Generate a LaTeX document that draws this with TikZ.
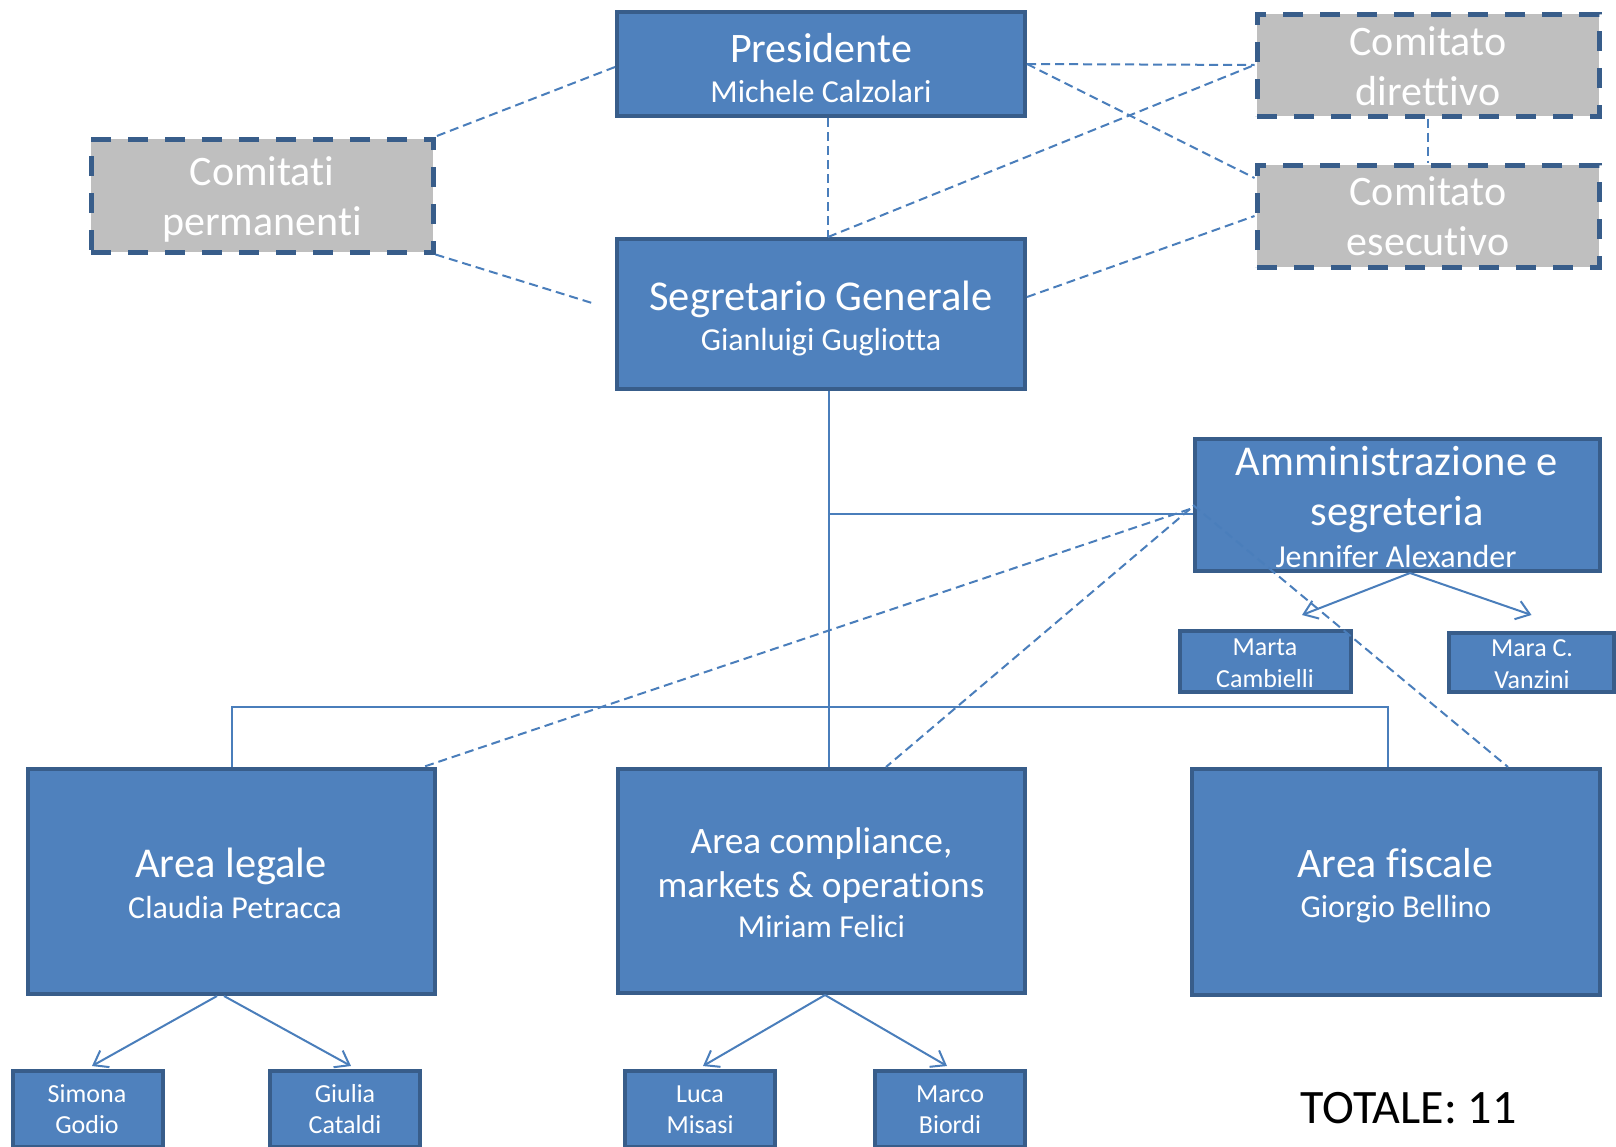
\documentclass[tikz,border=0pt]{standalone}
\usepackage{fontspec}
\setmainfont{Carlito}[Ligatures={NoCommon}]
\usetikzlibrary{arrows.meta,calc}
\definecolor{boxfill}{HTML}{4F81BD}
\definecolor{boxline}{HTML}{385D8A}
\definecolor{grayfill}{HTML}{BFBFBF}
\definecolor{conn}{HTML}{4A7EBB}
\newcommand\myfs[1]{\fontsize{#1}{#1}\selectfont}
\begin{document}
\begin{tikzpicture}[x=1pt,y=-1pt,
  bluebox/.style={rectangle, draw=boxline, fill=boxfill, line width=4pt, inner sep=0pt},
  graybox/.style={rectangle, draw=boxline, fill=grayfill, line width=5pt, dash pattern=on 20pt off 17pt, inner sep=0pt},
  txt/.style={text=white, anchor=base, inner sep=0pt},
  dline/.style={draw=conn, line width=2pt, dash pattern=on 9pt off 5pt},
  sline/.style={draw=conn, line width=2pt},
  arr/.style={draw=conn, line width=2pt, -{Straight Barb[length=13pt,width=19pt]}}
]
\path[use as bounding box] (0,0) rectangle (1616,1146);
\clip (0,0) rectangle (1616,1146);

% boxes
\node[bluebox, minimum width=408pt, minimum height=104pt] (pres) at (821,64) {};
\node[bluebox, minimum width=408pt, minimum height=150pt] (seg) at (821,314) {};
\node[graybox, minimum width=342pt, minimum height=102pt] (cdir) at (1428,65) {};
\node[graybox, minimum width=342pt, minimum height=102pt] (cese) at (1428,216) {};
\node[graybox, minimum width=342pt, minimum height=113pt] (cperm) at (262,195.5) {};
\node[bluebox, minimum width=405pt, minimum height=132pt] (amm) at (1397.5,505) {};
\node[bluebox, minimum width=171pt, minimum height=61pt] (marta) at (1265.5,661.5) {};
\node[bluebox, minimum width=165pt, minimum height=59pt] (mara) at (1531.5,662.5) {};
\node[bluebox, minimum width=407pt, minimum height=225pt] (legale) at (231.5,881.5) {};
\node[bluebox, minimum width=407pt, minimum height=224pt] (compl) at (821.5,881) {};
\node[bluebox, minimum width=408pt, minimum height=226pt] (fisc) at (1396,882) {};
\node[bluebox, minimum width=150pt, minimum height=76pt] (simona) at (88,1109) {};
\node[bluebox, minimum width=150pt, minimum height=76pt] (giulia) at (345,1109) {};
\node[bluebox, minimum width=150pt, minimum height=76pt] (luca) at (700,1109) {};
\node[bluebox, minimum width=150pt, minimum height=76pt] (marco) at (950,1109) {};

% texts
\node[txt, font=\myfs{42}] (presA) at (821,62) {Presidente};
\node[txt, font=\myfs{32}] (presB) at (821,102) {Michele Calzolari};
\node[txt, font=\myfs{42.5}] (segA) at (821,310) {Segretario Generale};
\node[txt, font=\myfs{32}] (segB) at (821,350) {Gianluigi Gugliotta};
\node[txt, font=\myfs{42}] (cdirA) at (1428,55) {Comitato};
\node[txt, font=\myfs{42}] (cdirB) at (1428,105) {direttivo};
\node[txt, font=\myfs{42}] (ceseA) at (1428,205) {Comitato};
\node[txt, font=\myfs{42}] (ceseB) at (1428,255) {esecutivo};
\node[txt, font=\myfs{42}] (cpermA) at (262,185) {Comitati};
\node[txt, font=\myfs{42}] (cpermB) at (262,235) {permanenti};
\node[txt, font=\myfs{42.5}] (ammA) at (1397,475) {Amministrazione e};
\node[txt, font=\myfs{42.5}] (ammB) at (1397,525) {segreteria};
\node[txt, font=\myfs{32}] (ammC) at (1396,567) {Jennifer Alexander};
\node[txt, font=\myfs{26}] (martaA) at (1265,655) {Marta};
\node[txt, font=\myfs{26}] (martaB) at (1265,687) {Cambielli};
\node[txt, font=\myfs{26}] (maraA) at (1532,656) {Mara C.};
\node[txt, font=\myfs{26}] (maraB) at (1532,688) {Vanzini};
\node[txt, font=\myfs{42.5}] (legA) at (231,877) {Area legale};
\node[txt, font=\myfs{32}] (legB) at (235,918) {Claudia Petracca};
\node[txt, font=\myfs{37.3}] (compA) at (821.5,853) {Area compliance,};
\node[txt, font=\myfs{37.3}] (compB) at (821,897) {markets \& operations};
\node[txt, font=\myfs{32}] (compC) at (821.5,937) {Miriam Felici};
\node[txt, font=\myfs{42}] (fiscA) at (1395.5,877) {Area fiscale};
\node[txt, font=\myfs{32}] (fiscB) at (1396,917) {Giorgio Bellino};
\node[txt, font=\myfs{26}] (simA) at (87,1102) {Simona};
\node[txt, font=\myfs{26}] (simB) at (87,1133) {Godio};
\node[txt, font=\myfs{26}] (giuA) at (345,1102) {Giulia};
\node[txt, font=\myfs{26}] (giuB) at (345,1133) {Cataldi};
\node[txt, font=\myfs{26}] (lucA) at (700,1102) {Luca};
\node[txt, font=\myfs{26}] (lucB) at (700,1133) {Misasi};
\node[txt, font=\myfs{26}] (marA) at (950,1102) {Marco};
\node[txt, font=\myfs{26}] (marB) at (950,1133) {Biordi};
\node[anchor=base, inner sep=0pt, text=black, font=\myfs{48}] (tot) at (1408.5,1123) {TOTALE: 11};

% coordinates
\coordinate (cpEnd) at (592,303);
\coordinate (j1) at (829,514);
\coordinate (j2) at (829,707);

% dashed connectors
\draw[dline] ([yshift=-3pt]pres.west) -- (cperm.north east);
\draw[dline] (cperm.south east) -- (cpEnd);
\draw[dline] ([xshift=7pt]pres.south) -- ([xshift=7pt]seg.north);
\draw[dline] ([xshift=7pt]seg.north) -- (cdir.west);
\draw[dline] (pres.east) -- (cdir.west);
\draw[dline] (pres.east) -- ([yshift=38pt]cese.west);
\draw[dline] ([yshift=17pt]seg.east) -- (cese.west);
\draw[dline] (cdir.south) -- (cese.north);
\draw[dline] ([yshift=-4pt,xshift=-3pt]amm.west) -- ([xshift=-14pt]legale.north east);
\draw[dline] ([yshift=-4pt,xshift=-3pt]amm.west) -- ([xshift=64.5pt]compl.north);
\draw[dline] (amm.west) -- ([xshift=112pt]fisc.north);

% solid connectors
\draw[sline] ([xshift=8pt]seg.south) -- ([xshift=7.5pt]compl.north);
\draw[sline] (j1) -- ([yshift=-9pt]amm.west);
\draw[sline] ([xshift=0.5pt]legale.north) |- (j2) -| ([xshift=-8pt]fisc.north);

% arrows
\draw[arr] ([xshift=12.5pt]amm.south) -- ([xshift=36.5pt,yshift=14pt]marta.north);
\draw[arr] ([xshift=12.5pt]amm.south) -- ([yshift=16pt]mara.north);
\draw[arr] ([xshift=-14.5pt]legale.south) -- ([xshift=4pt,yshift=3pt]simona.north);
\draw[arr] ([xshift=-7.5pt]legale.south) -- ([xshift=6pt,yshift=3pt]giulia.north);
\draw[arr] ([xshift=3.5pt]compl.south) -- ([xshift=3pt,yshift=3pt]luca.north);
\draw[arr] ([xshift=3.5pt]compl.south) -- ([xshift=-3pt,yshift=3pt]marco.north);
\end{tikzpicture}
\end{document}
